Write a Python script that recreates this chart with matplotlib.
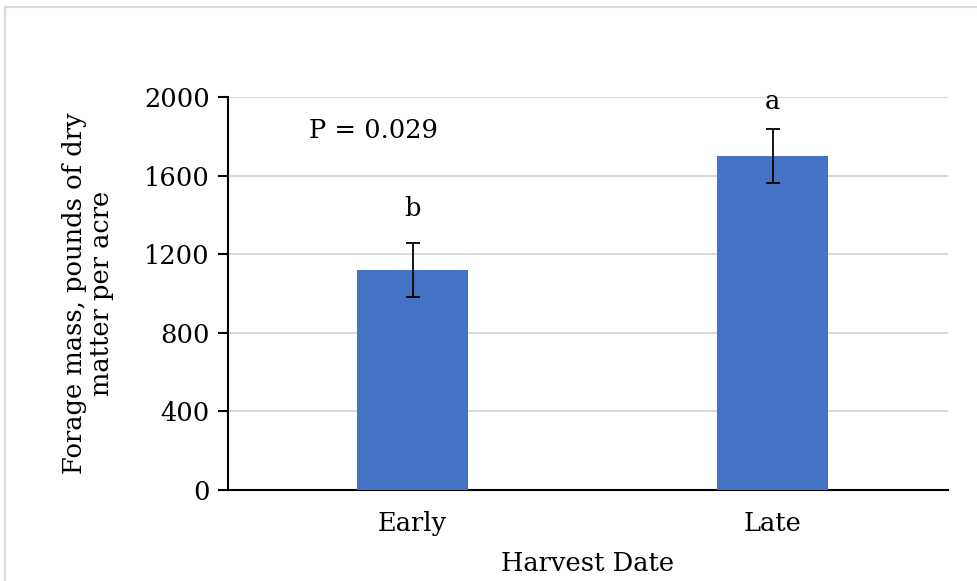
import matplotlib
matplotlib.use("Agg")
import matplotlib.pyplot as plt
from matplotlib.patches import Rectangle

categories = ["Early", "Late"]
values = [1120, 1700]
errors = [137, 137]
letters = ["b", "a"]
letter_y = [1435, 1975]
yticks = [0, 400, 800, 1200, 1600, 2000]

plt.rcParams['font.family'] = ['DejaVu Serif']
FS = 18.5

fig = plt.figure(figsize=(9.77, 5.81), dpi=100)
ax = fig.add_axes([228/977, 1-490/581, 720/977, 393/581])

x = list(range(len(categories)))
ax.bar(x, values, width=0.31, color="#4472C4", zorder=3)
ax.errorbar(x, values, yerr=errors, fmt="none", ecolor="black", elinewidth=1.3,
            capsize=5, capthick=1.3, zorder=4)
for xi, lab, ly in zip(x, letters, letter_y):
    ax.text(xi, ly, lab, ha="center", va="center", fontsize=FS)
ax.text(-0.11, 1832, "P = 0.029", ha="center", va="center", fontsize=FS)

ax.set_xlim(-0.513, 1.487)
ax.set_ylim(0, 2000)
ax.set_yticks(yticks)
ax.set_yticklabels([str(t) for t in yticks], fontsize=FS)
ax.set_xticks(x)
ax.set_xticklabels(categories, fontsize=FS)
ax.tick_params(axis="x", length=0, pad=15)
ax.tick_params(axis="y", length=7, width=1.5, direction="out", pad=6)
ax.grid(axis="y", color="#D9D9D9", linewidth=1.5, zorder=0)
for s in ["top", "right"]:
    ax.spines[s].set_visible(False)
ax.spines["left"].set_linewidth(1.5)
ax.spines["bottom"].set_linewidth(1.5)
ax.set_xlabel("Harvest Date", fontsize=FS, labelpad=11)
ax.set_ylabel("Forage mass, pounds of dry\nmatter per acre", fontsize=FS, labelpad=22,
              linespacing=1.1)

fig.patches.append(Rectangle((5/977, -0.05), 1.5, 1 - 7/581 + 0.05,
                             transform=fig.transFigure, fill=False,
                             edgecolor="#D9D9D9", linewidth=1.5))
fig.savefig("out.png", dpi=100)
